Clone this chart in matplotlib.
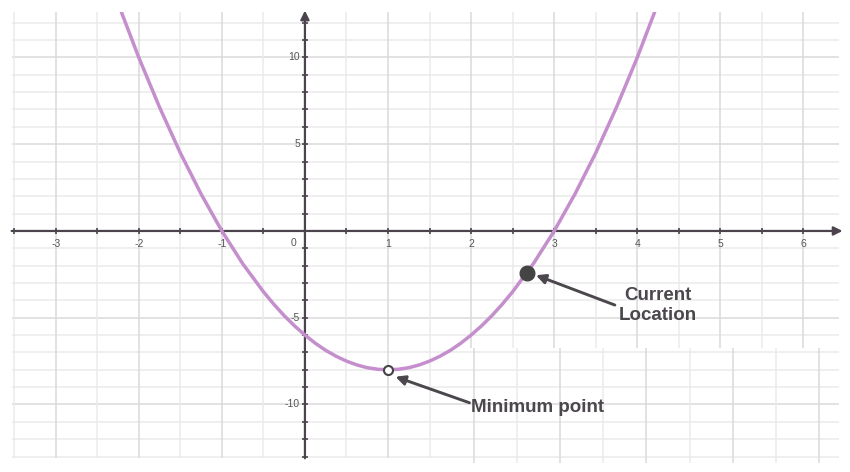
import numpy as np
import matplotlib.pyplot as plt
from matplotlib.patches import Rectangle

# points
curve_x = [-2.25, -2.0, -1.75, -1.5, -1.25, -1.0, -0.75, -0.5, -0.375, -0.25,
           -0.125, 0.0, 0.125, 0.25, 0.375, 0.5, 0.625, 0.75, 0.875, 1.0,
           1.125, 1.25, 1.375, 1.5, 1.625, 1.75, 1.875, 2.0, 2.125, 2.25,
           2.375, 2.5, 2.75, 3.0, 3.25, 3.5, 3.75, 4.0, 4.25]
curve_y = [13.13, 10.0, 7.13, 4.5, 2.13, 0.0, -1.88, -3.5, -4.22, -4.88,
           -5.47, -6.0, -6.47, -6.88, -7.22, -7.5, -7.72, -7.88, -7.97, -8.0,
           -7.97, -7.88, -7.72, -7.5, -7.22, -6.88, -6.47, -6.0, -5.47, -4.88,
           -4.22, -3.5, -1.88, 0.0, 2.13, 4.5, 7.13, 10.0, 13.13]

current_pt = (2.67, -2.45)
minimum_pt = (1.0, -8.0)

x_labels = [-3, -2, -1, 1, 2, 3, 4, 5, 6]
y_labels = [10, 5, -5, -10]

axis_col = '#4b444d'
text_col = '#4b474d'
curve_col = '#c48fcc'
grid_major = '#dadada'
grid_minor = '#ebebeb'

fig = plt.figure(figsize=(8.5, 4.72), dpi=100)
ax = fig.add_axes([0, 0, 1, 1])
ax.set_xlim(-3.67, 6.56)
ax.set_ylim(-13.89, 13.31)
ax.axis('off')

gx0, gx1 = -3.53, 6.43
gy0, gy1 = -13.1, 12.6
patch_x0, patch_x1, patch_top = 1.96, 6.2, -6.74

# horizontal grid
for y in range(-13, 13):
    c = grid_major if y % 5 == 0 else grid_minor
    ax.hlines(y, gx0, gx1, color=c, lw=1.1, zorder=1)

# vertical grid (cut where the pasted patch sits)
for x in np.arange(-3.5, 6.01, 0.5):
    c = grid_major if float(x).is_integer() else grid_minor
    if patch_x0 < x < patch_x1:
        ax.vlines(x, patch_top, gy1, color=c, lw=1.1, zorder=1)
    else:
        ax.vlines(x, gy0, gy1, color=c, lw=1.1, zorder=1)

# the shifted grid patch in the lower right
for k in range(9):
    x = 2.03 + 0.52 * k
    c = grid_major if k % 2 == 0 else grid_minor
    ax.vlines(x, -13.37, patch_top, color=c, lw=1.1, zorder=1)

# axes with arrows
ax.annotate('', xy=(6.47, 0), xytext=(gx0, 0),
            arrowprops=dict(arrowstyle='-|>', color=axis_col, lw=1.6,
                            mutation_scale=13, shrinkA=0, shrinkB=0), zorder=3)
ax.annotate('', xy=(0, 12.7), xytext=(0, gy0),
            arrowprops=dict(arrowstyle='-|>', color=axis_col, lw=1.6,
                            mutation_scale=13, shrinkA=0, shrinkB=0), zorder=3)

# small tick marks
xt = np.arange(-3.5, 6.01, 0.5)
ax.plot(xt, np.zeros_like(xt), ls='none', marker='|', ms=4.5, mew=1.2,
        color=axis_col, zorder=3)
yt = np.arange(-13, 13)
ax.plot(np.zeros_like(yt), yt, ls='none', marker='_', ms=4.5, mew=1.2,
        color=axis_col, zorder=3)

for v in x_labels:
    ax.text(v, -0.75, str(v), ha='center', va='center', fontsize=7.5,
            color='#555555', family='Liberation Sans')
ax.text(-0.14, -0.7, '0', ha='center', va='center', fontsize=7.5,
        color='#555555', family='Liberation Sans')
for v in y_labels:
    ax.text(-0.06, v, str(v), ha='right', va='center', fontsize=7.5,
            color='#555555', family='Liberation Sans')

# the curve
line, = ax.plot(curve_x, curve_y, color=curve_col, lw=2.5, zorder=4,
                solid_capstyle='butt', solid_joinstyle='round')
clip = Rectangle((gx0, gy0), gx1 - gx0, gy1 - gy0, transform=ax.transData)
line.set_clip_path(clip)

# points
ax.plot(*current_pt, marker='o', ms=10.5, color='#444444', zorder=6)
ax.plot(*minimum_pt, marker='o', ms=6.5, mfc='white', mec='#444444',
        mew=1.5, zorder=6)

arrow = dict(arrowstyle='-|>', color=text_col, lw=2.1, mutation_scale=14,
             shrinkA=0, shrinkB=0)
ax.annotate('', xy=(2.78, -2.55), xytext=(3.73, -4.27), arrowprops=arrow, zorder=5)
ax.annotate('', xy=(1.09, -8.4), xytext=(1.98, -9.9), arrowprops=arrow, zorder=5)

ax.text(4.25, -4.3, 'Current\nLocation', ha='center', va='center',
        multialignment='center', fontsize=13.5, fontweight='bold',
        color=text_col, family='Liberation Sans', linespacing=1.2, zorder=7)
ax.text(2.0, -10.2, 'Minimum point', ha='left', va='center', fontsize=13.5,
        fontweight='bold', color=text_col, family='Liberation Sans', zorder=7)

fig.savefig('out.png', dpi=100, facecolor='white')
